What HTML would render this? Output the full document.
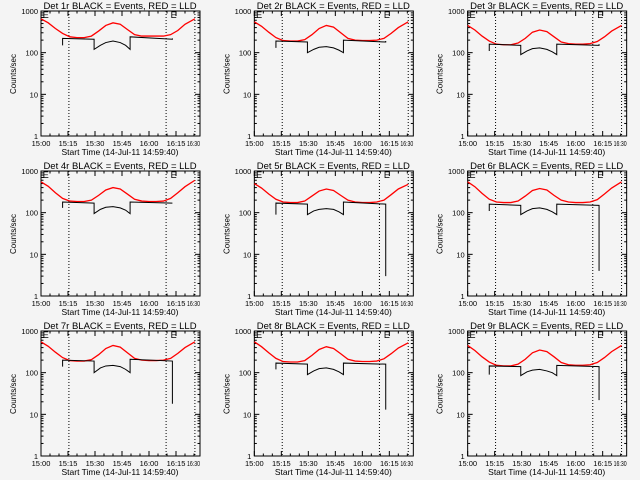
<!DOCTYPE html>
<html><head><meta charset="utf-8"><style>
html,body{margin:0;padding:0;background:#f4f4f4;}
svg{display:block;font-family:"Liberation Sans",sans-serif;}
</style></head><body>
<svg id="c" width="640" height="480"></svg>
<script>
const redTimes=[0,4,8,12,16,20,24,28,32,36,40,44,48,52,56,60,64,68,72,76,80,85.5];
const red1=[650,520,380,290,240,230,230,250,330,450,520,480,360,270,250,250,250,250,270,340,480,650];
const red2=[550,430,310,230,195,190,190,205,270,380,450,410,300,220,200,195,195,200,220,290,400,550];
const red3=[450,350,250,190,160,155,155,170,220,310,350,320,240,180,165,160,160,165,185,240,330,450];
const red4=[550,430,300,220,190,185,185,200,260,350,400,370,280,210,190,185,185,190,220,300,420,600];
const red5=[500,390,280,210,180,175,175,190,250,330,370,340,260,200,180,175,175,180,200,270,370,480];
const red6=[550,420,290,210,180,175,175,190,250,340,380,350,260,200,180,175,175,180,205,280,390,550];
const red7=[550,430,310,230,195,190,190,205,270,380,450,410,300,220,200,195,195,200,220,290,400,550];
const red8=[550,420,300,220,185,180,180,195,260,360,420,380,285,210,190,185,185,190,215,285,390,520];
const red9=[450,340,240,180,150,145,145,160,210,300,350,320,240,175,155,150,150,155,175,230,320,450];
const blackTimes=[12,12,29.5,29.5,33,36,40,44,47,49.5,49.5,73,73];
const black1=[150,220,210,120,150,175,190,175,150,120,240,210,220];
const black2=[130,190,180,100,120,135,140,130,115,100,200,180,190];
const black3=[110,160,150,90,110,125,130,120,105,90,160,150,160];
const black4=[130,180,170,95,120,135,140,130,115,95,180,170,170];
const black5=[90,170,160,90,110,120,125,120,105,90,180,160,3];
const black6=[110,160,150,90,110,125,130,120,105,90,160,150,4];
const black7=[140,200,190,100,130,145,150,140,120,100,210,190,18];
const black8=[120,170,160,90,110,125,130,120,105,90,170,160,13];
const black9=[90,145,140,85,105,115,120,110,100,85,150,140,22];
const detNames=["1r","2r","3r","4r","5r","6r","7r","8r","9r"];
const xTickLabels=["15:00","15:15","15:30","15:45","16:00","16:15","16:30"];
const xTickMins=[0,15,30,45,60,75,90];
const yTickVals=[1,10,100,1000];
const yTickLabels=["1","10","100","1000"];
const dottedMins=[15.5,69.5,85.5];
const reds=[red1,red2,red3,red4,red5,red6,red7,red8,red9];
const blacks=[black1,black2,black3,black4,black5,black6,black7,black8,black9];

const svg=document.getElementById('c');
const NS='http://www.w3.org/2000/svg';
function mk(t,a,p){const e=document.createElementNS(NS,t);for(const k in a)e.setAttribute(k,a[k]);p.appendChild(e);return e;}
const L=41,R=200,T=11,B=136;
for(let i=0;i<9;i++){
  const ox=(i%3)*213.33, oy=Math.floor(i/3)*160;
  const g=mk('g',{transform:`translate(${ox},${oy})`},svg);
  
  
  const xs=m=>L+m*1.8;
  const ys=v=>B-(Math.log10(v))/3*(B-T);
  const box=mk('rect',{x:L,y:T,width:R-L,height:B-T,fill:'none',stroke:'#000','stroke-width':1},g);
  
  
  for(let d=0;d<3;d++)for(let k=1;k<10;k++){
    const v=Math.pow(10,d)*k, y=ys(v), len=k===1?5:2.5;
    mk('line',{x1:L,x2:L+len,y1:y,y2:y,stroke:'#000'},g);
    mk('line',{x1:R,x2:R-len,y1:y,y2:y,stroke:'#000'},g);
  }
  mk('line',{x1:L,x2:L+5,y1:ys(1000),y2:ys(1000),stroke:'#000'},g);
  mk('line',{x1:R,x2:R-5,y1:ys(1000),y2:ys(1000),stroke:'#000'},g);
  yTickVals.forEach((v,j)=>{
    const t=mk('text',{x:L-3,y:ys(v)+3,'text-anchor':'end','font-size':7.5},g);
    t.textContent=yTickLabels[j];
    
    
  });
  xTickMins.forEach((m,j)=>{
    const x=xs(m);
    if(x<=R){mk('line',{x1:x,x2:x,y1:B,y2:B-5,stroke:'#000'},g);mk('line',{x1:x,x2:x,y1:T,y2:T+5,stroke:'#000'},g);}
    const over=x>R;
    const attrs=over?{x:187,y:B+10,'text-anchor':'start','font-size':7.5,textLength:13,lengthAdjust:'spacingAndGlyphs'}:{x:x,y:B+10,'text-anchor':'middle','font-size':7.5};
    const t=mk('text',attrs,g);
    t.textContent=xTickLabels[j];
    
    
  });
  for(let m=5;m<88;m+=5){if(m%15){const x=xs(m);mk('line',{x1:x,x2:x,y1:B,y2:B-2.5,stroke:'#000'},g);mk('line',{x1:x,x2:x,y1:T,y2:T+2.5,stroke:'#000'},g);}}
  dottedMins.forEach(m=>{
    const l=mk('line',{x1:xs(m),x2:xs(m),y1:T,y2:B,stroke:'#000','stroke-dasharray':'1,2'},g);
    
    
  });
  [1,72].forEach(m=>{
    const t=mk('text',{x:xs(m),y:T+7,'font-size':9},g);t.textContent='E';
    
    
  });
  const title=mk('text',{x:120,y:9,'text-anchor':'middle','font-size':9.5},g);
  title.textContent=`Det ${detNames[i]} BLACK = Events, RED = LLD`;
  
  
  const xt=mk('text',{x:120,y:155,'text-anchor':'middle','font-size':8.5},g);
  xt.textContent='Start Time (14-Jul-11 14:59:40)';
  
  
  const yt=mk('text',{x:0,y:0,'text-anchor':'middle','font-size':8,transform:'translate(16,74) rotate(-90)'},g);
  yt.textContent='Counts/sec';
  
  
  const rp=mk('polyline',{points:redTimes.map((m,j)=>xs(m)+','+ys(reds[i][j])).join(' '),fill:'none',stroke:'#f00','stroke-width':1.3},g);
  
  
  const bp=mk('polyline',{points:blackTimes.map((m,j)=>xs(m)+','+ys(blacks[i][j])).join(' '),fill:'none',stroke:'#000','stroke-width':1},g);
  
  
}
</script>
</body></html>
